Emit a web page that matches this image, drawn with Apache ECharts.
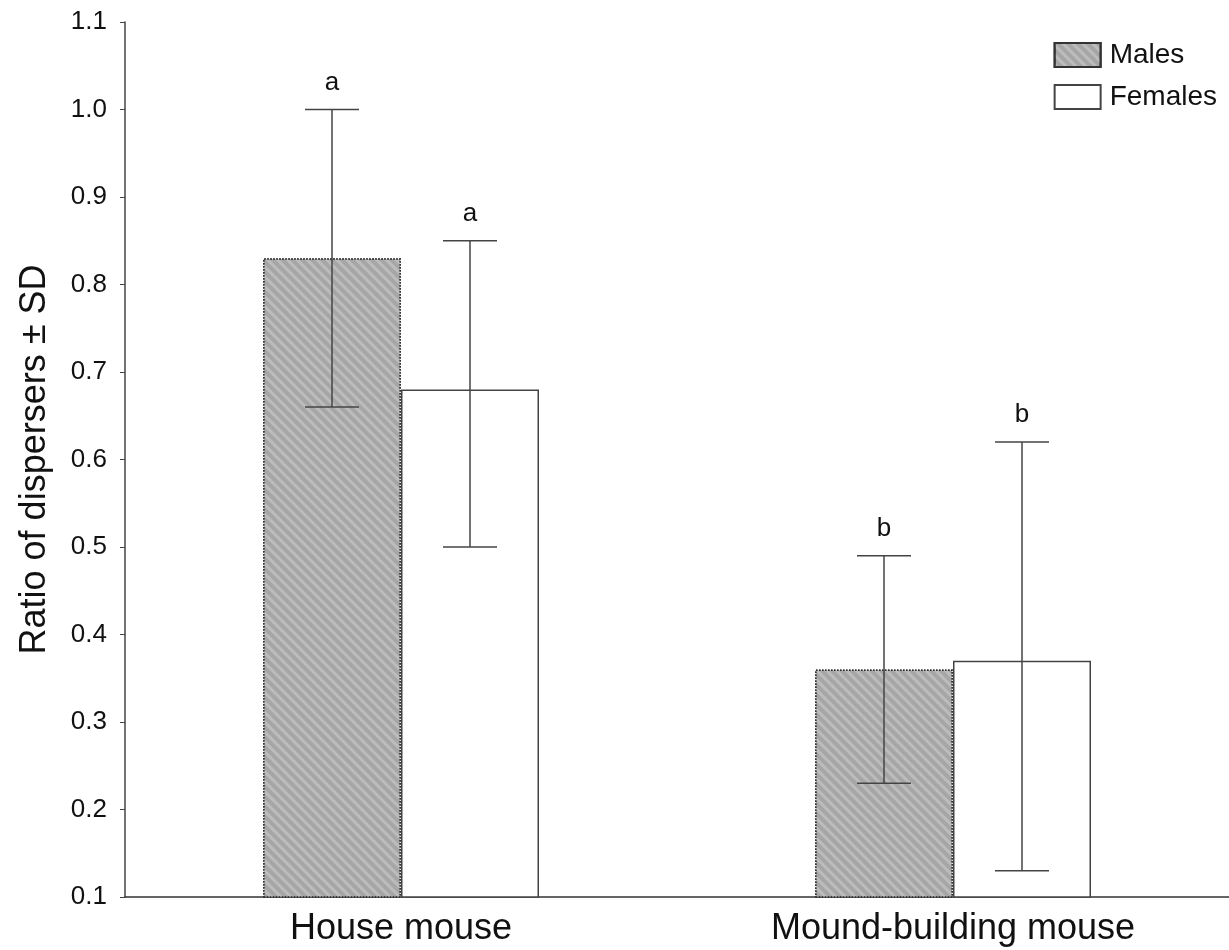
<!DOCTYPE html>
<html><head><meta charset="utf-8">
<script src="https://cdn.jsdelivr.net/npm/echarts@6/dist/echarts.min.js"></script>
<style>html,body{margin:0;padding:0;background:#fff}#c{width:1229px;height:950px}</style>
</head><body><div id="c"></div>
<script>
const categories = ['House mouse', 'Mound-building mouse'];
const males = [0.83, 0.36];
const females = [0.68, 0.37];
const malesLow = [0.66, 0.23];
const malesHigh = [1.00, 0.49];
const femalesLow = [0.50, 0.13];
const femalesHigh = [0.85, 0.62];
const malesLetters = ['a', 'b'];
const femalesLetters = ['a', 'b'];
const yTicks = [0.1, 1.1, 0.1]; // min, max, interval

const chart = echarts.init(document.getElementById('c'));
const FONT = '"Liberation Sans", Arial, sans-serif';

function errSeries(name, low, high, letters, seriesIndex) {
  return {
    type: 'custom', name: name + ' err', silent: true, z: 10,
    data: categories.map((c, i) => [i, low[i], high[i], letters[i]]),
    encode: { x: 0, y: [1, 2] },
    renderItem: function (params, api) {
      const idx = api.value(0);
      const lo = api.coord([idx, api.value(1)]);
      const hi = api.coord([idx, api.value(2)]);
      const barW = api.size([1, 0])[0];
      const bw = barW * 0.25;
      const off = seriesIndex === 0 ? -bw / 2 : bw / 2;
      const x = lo[0] + off;
      const cap = 27;
      const st = { stroke: '#444', lineWidth: 1.5 };
      return {
        type: 'group', children: [
          { type: 'line', shape: { x1: x, y1: lo[1], x2: x, y2: hi[1] }, style: st },
          { type: 'line', shape: { x1: x - cap, y1: lo[1], x2: x + cap, y2: lo[1] }, style: st },
          { type: 'line', shape: { x1: x - cap, y1: hi[1], x2: x + cap, y2: hi[1] }, style: st },
          { type: 'text', style: { x: x, y: hi[1] - 14, text: api.value(3), font: '26px ' + FONT, fill: '#111', align: 'center', verticalAlign: 'bottom' } }
        ]
      };
    }
  };
}

chart.setOption({
  animation: false,
  grid: { left: 125, right: 0, top: 22, bottom: 53, containLabel: false },
  legend: {
    right: 7, top: 36, orient: 'vertical', itemWidth: 46, itemHeight: 24, itemGap: 14,
    icon: 'rect',
    textStyle: { fontFamily: FONT, fontSize: 28, color: '#111', padding: [0, 0, 0, 4] },
    data: ['Males', 'Females'], selectedMode: false
  },
  xAxis: {
    type: 'category', data: categories,
    axisLine: { lineStyle: { color: '#333', width: 1.5 } },
    axisTick: { show: false },
    axisLabel: { fontFamily: FONT, fontSize: 36, color: '#111', margin: 14 }
  },
  yAxis: {
    type: 'value', min: yTicks[0], max: yTicks[1], interval: yTicks[2],
    name: 'Ratio of dispersers \u00b1 SD', nameLocation: 'middle', nameGap: 72,
    nameTextStyle: { fontFamily: FONT, fontSize: 36, color: '#111' },
    axisLine: { show: true, lineStyle: { color: '#444', width: 1.5 } },
    axisTick: { show: true, length: 5, lineStyle: { color: '#444' } },
    splitLine: { show: false },
    axisLabel: { fontFamily: FONT, fontSize: 26, color: '#111', margin: 18, formatter: v => v.toFixed(1) }
  },
  series: [
    {
      name: 'Males', type: 'bar', data: males, barGap: '0%', barCategoryGap: '50%',
      itemStyle: {
        color: '#a6a6a6', borderColor: '#333', borderWidth: 1.5, borderType: 'dotted',
        decal: { symbol: 'rect', dashArrayX: [1, 0], dashArrayY: [3, 4], rotation: Math.PI / 4, color: 'rgba(255,255,255,0.25)' }
      }
    },
    {
      name: 'Females', type: 'bar', data: females,
      itemStyle: { color: '#fff', borderColor: '#444', borderWidth: 1.5 }
    },
    errSeries('Males', malesLow, malesHigh, malesLetters, 0),
    errSeries('Females', femalesLow, femalesHigh, femalesLetters, 1)
  ]
});
</script></body></html>
